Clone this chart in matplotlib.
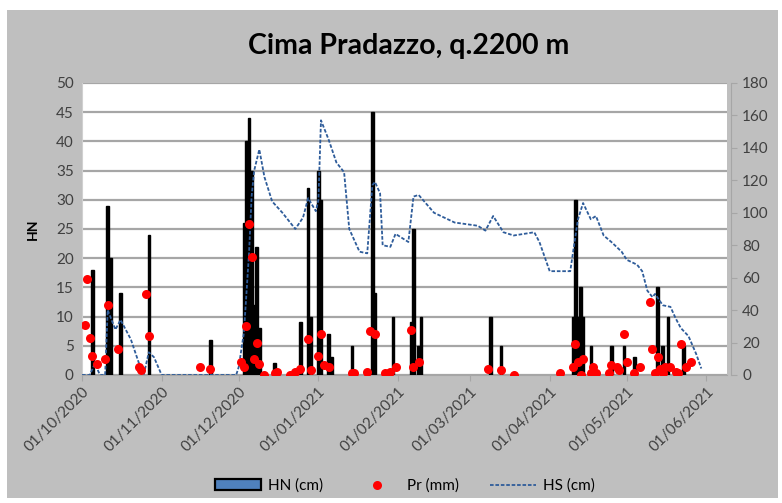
'''Cima Pradazzo snow chart: HN bars, Pr dots, HS line'''
import pandas as pd
from matplotlib import pyplot as plt
import matplotlib.dates as mdates
from matplotlib.patches import Rectangle, Patch

start = pd.Timestamp('2020-10-01')

# HN (cm) new snow, days after 01/10/2020
hn_days = [4, 10, 11, 15, 26, 50, 63, 64, 65, 66, 67, 68, 69, 75, 85, 88, 89,
           92, 93, 96, 97, 105, 113, 114, 121, 128, 129, 131, 132, 159, 163,
           191, 192, 193, 194, 195, 198, 206, 211, 215, 224, 226, 228, 234]
hn_vals = [18, 29, 20, 14, 24, 6, 26, 40, 44, 35, 12, 22, 8, 2, 9, 32, 10,
           35, 30, 7, 3, 5, 45, 14, 10, 9, 25, 5, 10, 10, 5,
           10, 30, 10, 15, 10, 5, 5, 5, 3, 15, 5, 10, 5]

# Pr (mm) precipitation
pr_days = [1, 2, 3, 4, 6, 9, 10, 14, 22, 23, 25, 26,
           46, 50, 62, 63, 64, 65, 66, 67, 68, 69, 71, 75, 76,
           81, 83, 85, 88, 89, 92, 93, 94, 96, 105, 106, 111, 112, 114,
           118, 120, 122, 128, 129, 131, 158, 163, 168, 186,
           191, 192, 193, 194, 195, 198, 199, 200, 205, 206, 208, 209, 211,
           212, 215, 217, 221, 222, 223, 224, 225, 226, 227, 229, 231, 232,
           233, 235, 237]
pr_vals = [31, 59, 23, 12, 7, 10, 43, 16, 5, 3, 50, 24,
           5, 4, 8, 5, 30, 93, 73, 10, 20, 7, 0, 1, 2,
           0, 2, 4, 22, 3, 12, 25, 6, 5, 1, 1, 2, 27, 25,
           1, 2, 5, 28, 5, 8, 4, 3, 0, 1,
           5, 19, 8, 0, 10, 1, 5, 1, 1, 6, 5, 3, 25,
           8, 1, 5, 45, 16, 1, 11, 4, 1, 5, 5, 2, 1,
           19, 5, 8]

# HS (cm) snow depth
hs_days = [0, 3, 5, 7, 9, 10, 13, 15, 19, 22, 24, 26, 28, 31, 60, 61, 63, 65,
           66, 67, 69, 71, 74, 78, 83, 86, 88, 91, 92, 93, 96, 99, 102, 104,
           108, 111, 113, 114, 116, 117, 120, 122, 127, 129, 131, 137, 145,
           154, 157, 160, 164, 168, 176, 178, 182, 190, 193, 195, 198, 200,
           203, 206, 210, 212, 216, 218, 220, 222, 223, 226, 229, 231, 233,
           236, 239, 241]
hs_vals = [0, 0, 7, 0, 0, 40, 28, 34, 22, 8, 0, 14, 11, 0, 0, 5, 26, 75,
           110, 126, 139, 122, 107, 100, 90, 97, 109, 101, 108, 157, 145, 131,
           125, 90, 76, 75, 117, 119, 112, 80, 79, 87, 82, 110, 111, 100, 94,
           92, 89, 98, 88, 86, 88, 82, 64, 64, 96, 106, 96, 98,
           86, 82, 76, 71, 68, 64, 52, 48, 50, 43, 42, 35, 29,
           24, 13, 4]

month_ticks = pd.date_range('2020-10-01', '2021-06-01', freq='MS')

plt.rcParams['font.family'] = ['Lato', 'DejaVu Sans']

hn_dates = start + pd.to_timedelta(hn_days, unit='D')
pr_dates = start + pd.to_timedelta(pr_days, unit='D')
hs_dates = start + pd.to_timedelta(hs_days, unit='D')

fig = plt.figure(figsize=(7.82, 5.03), dpi=100)
fig.patch.set_facecolor('white')
fig.add_artist(Rectangle((7 / 782, 5 / 503), 771 / 782, 488 / 503,
                         transform=fig.transFigure, facecolor='#bfbfbf',
                         edgecolor='none', zorder=-10))

ax = fig.add_axes([82 / 782, 1 - 375 / 503, 645 / 782, 292 / 503])
ax.set_facecolor('white')
ax2 = ax.twinx()

# thin bars look solid black, the legend key shows the blue fill
ax.bar(hn_dates, hn_vals, width=1.0, color='black',
       edgecolor='black', linewidth=1.0, zorder=3)
bar_key = Patch(facecolor='#4f81bd', edgecolor='black', linewidth=1.6,
                label='HN (cm)')
line, = ax2.plot(hs_dates, hs_vals, linestyle=(0, (2, 1)), color='#2e5c9a',
                 linewidth=1.3, label='HS (cm)', zorder=3)
dots, = ax2.plot(pr_dates, pr_vals, 'o', color='#ff0000', markersize=6.5,
                 markeredgewidth=0, label='Pr (mm)', zorder=4)

ax.set_ylim(0, 50)
ax.set_yticks(range(0, 51, 5))
ax2.set_ylim(0, 180)
ax2.set_yticks(range(0, 181, 20))
ax.set_xlim(start, start + pd.Timedelta(days=251))
ax.set_xticks(month_ticks)
ax.xaxis.set_major_formatter(mdates.DateFormatter('%d/%m/%Y'))

ax.yaxis.grid(True, color='#a6a6a6', linewidth=1.6)
ax.set_axisbelow(True)
for a in (ax, ax2):
    for s in a.spines.values():
        s.set_visible(False)
ax2.spines['right'].set_visible(True)
ax2.spines['right'].set_color('#a6a6a6')
ax2.spines['right'].set_position(('outward', 3))
ax.spines['bottom'].set_visible(True)
ax.spines['bottom'].set_color('#a6a6a6')
ax.spines['left'].set_visible(True)
ax.spines['left'].set_color('#d0d0d0')

ax.tick_params(axis='y', length=0, labelsize=11, labelcolor='#404040', pad=6)
ax2.tick_params(axis='y', length=4, color='#a6a6a6', labelsize=11,
                labelcolor='#404040', pad=4)
ax.tick_params(axis='x', length=4, color='#a6a6a6', labelsize=11,
               labelcolor='#404040', pad=3)
for lab in ax.get_xticklabels():
    lab.set_rotation(45)
    lab.set_ha('right')
    lab.set_va('top')
    lab.set_rotation_mode('anchor')

ax.set_ylabel('HN', fontsize=10, fontweight='bold', labelpad=12)
fig.text(0.523, 1 - 46 / 503, 'Cima Pradazzo, q.2200 m', ha='center',
         va='center', fontsize=20.5, fontweight='bold')

fig.legend(handles=[bar_key, dots, line], loc='center', ncol=3,
           bbox_to_anchor=(0.518, 1 - 486 / 503), frameon=False, fontsize=11,
           handlelength=3, columnspacing=2.0, handletextpad=0.5)

plt.savefig('out.png', dpi=100)
plt.close()
